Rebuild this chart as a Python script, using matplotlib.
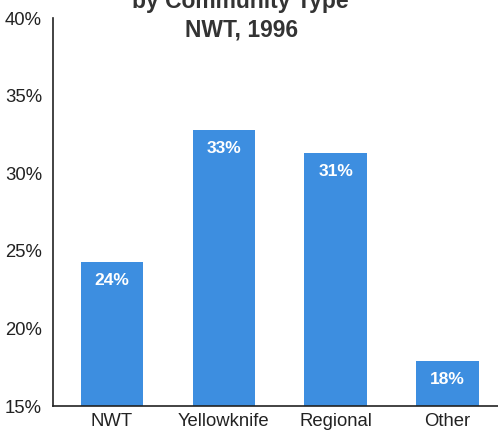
import matplotlib.pyplot as plt

categories = ['NWT', 'Yellowknife', 'Regional', 'Other']
values = [24.3, 32.8, 31.3, 17.9]
labels = ['24%', '33%', '31%', '18%']
yticks = [15, 20, 25, 30, 35, 40]

plt.rcParams['font.family'] = ['Liberation Sans', 'DejaVu Sans']

fig = plt.figure(figsize=(4.98, 4.30), dpi=100)
ax = fig.add_axes([0.1064, 0.0558, 0.8936, 0.9023])

x = range(len(categories))
bars = ax.bar(x, values, width=0.56, color='#3d8ee0', bottom=0)
ax.set_ylim(15, 40)
ax.set_xlim(-0.527, 3.45)

for b, lab in zip(bars, labels):
    ax.text(b.get_x() + b.get_width() / 2, b.get_height() - 1.2, lab,
            ha='center', va='center', color='white', fontsize=12.5, fontweight='bold')

ax.set_yticks(yticks)
ax.set_yticklabels([f'{t}%' for t in yticks], fontsize=13.3, color='#222222')
ax.set_xticks(list(x))
ax.set_xticklabels(categories, fontsize=13.3, color='#222222')
ax.tick_params(length=0, pad=5)
ax.tick_params(axis='y', pad=8)

for s in ['top', 'right']:
    ax.spines[s].set_visible(False)
for s in ['left', 'bottom']:
    ax.spines[s].set_linewidth(1.2)
    ax.spines[s].set_color('#222222')

# title, top line cut by the image edge as in the source
fig.text(0.483, 1 - 8 / 430, 'by Community Type', ha='center', va='baseline',
         fontsize=16.5, fontweight='bold', color='#333333')
fig.text(0.486, 1 - 37 / 430, 'NWT, 1996', ha='center', va='baseline',
         fontsize=16.5, fontweight='bold', color='#333333')

fig.savefig('out.png', dpi=100)
